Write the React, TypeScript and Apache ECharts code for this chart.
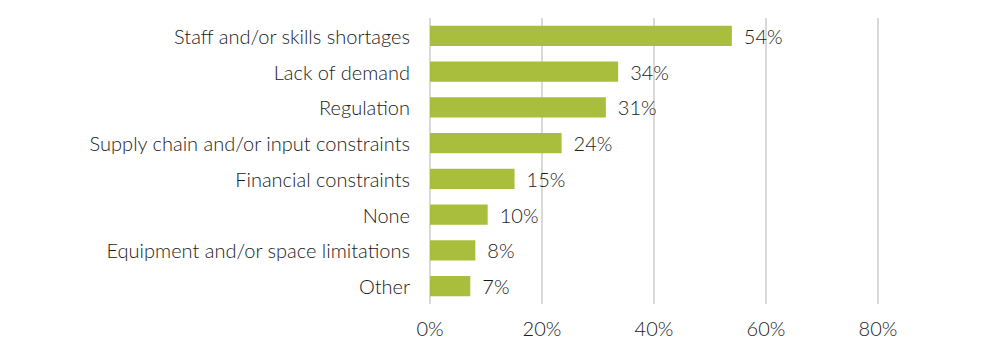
import React, { useEffect, useRef } from "react";
import * as echarts from "echarts";

const categories = [
  "Staff and/or skills shortages",
  "Lack of demand",
  "Regulation",
  "Supply chain and/or input constraints",
  "Financial constraints",
  "None",
  "Equipment and/or space limitations",
  "Other",
];
const values = [53.9, 33.6, 31.4, 23.5, 15.1, 10.3, 8.1, 7.2];
const xTicks = [0, 20, 40, 60, 80];

export default function App() {
  const ref = useRef<HTMLDivElement>(null);
  useEffect(() => {
    if (!ref.current) return;
    const chart = echarts.init(ref.current, null, { renderer: "svg" });
    const font = "Lato";
    const textColor = "#1a1a1a";
    chart.setOption({
      animation: false,
      grid: { left: 430, right: 120, top: 18, height: 286, containLabel: false },
      xAxis: {
        type: "value",
        min: xTicks[0],
        max: xTicks[xTicks.length - 1],
        interval: 20,
        axisLine: { show: false },
        axisTick: { show: false },
        splitLine: { show: true, lineStyle: { color: "#d9d9d9", width: 2 } },
        axisLabel: {
          formatter: (v: number) => `${v}%`,
          fontFamily: font,
          fontSize: 20,
          color: textColor,
          margin: 14,
          fontWeight: 300,
        },
      },
      yAxis: {
        type: "category",
        data: categories,
        inverse: true,
        axisLine: { show: false },
        axisTick: { show: false },
        axisLabel: {
          fontFamily: font,
          fontSize: 20,
          color: textColor,
          margin: 20,
          fontWeight: 300,
          padding: [0, 0, 5, 0],
        },
      },
      series: [
        {
          type: "bar",
          data: values,
          barCategoryGap: "44%",
          itemStyle: { color: "#a9be3c" },
          label: {
            show: true,
            position: "right",
            distance: 12,
            formatter: (p: any) => `${Math.round(p.value)}%`,
            fontFamily: font,
            fontSize: 20,
            color: textColor,
            fontWeight: 300,
            padding: [0, 0, 5, 0],
          },
        },
      ],
    });
    return () => chart.dispose();
  }, []);
  return <div ref={ref} style={{ width: 998, height: 350, margin: -8 }} />;
}
